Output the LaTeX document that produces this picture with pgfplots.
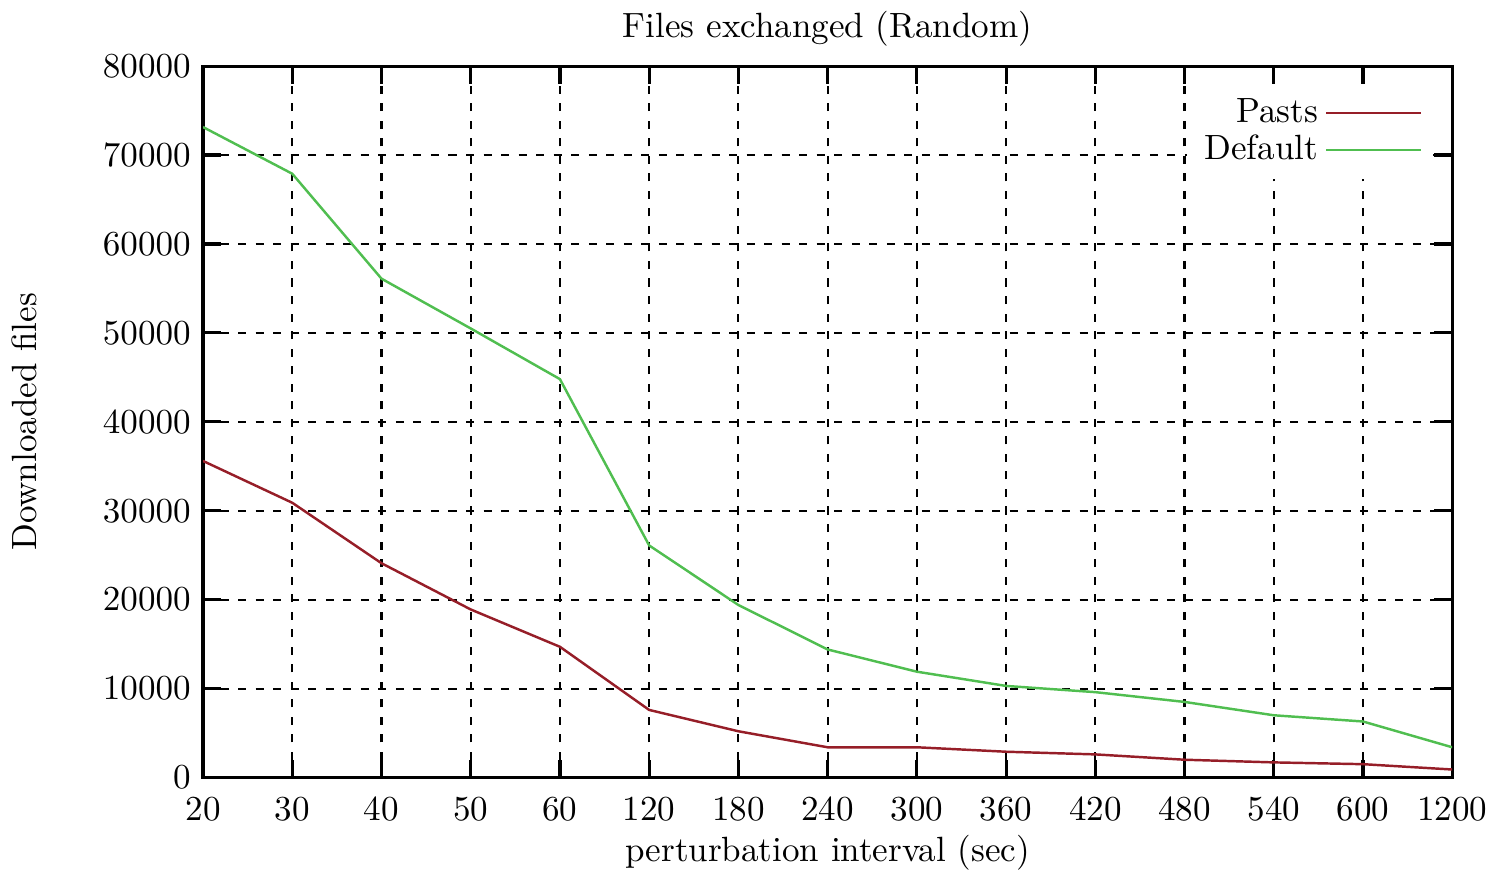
\documentclass[border=0pt]{standalone}
\usepackage{pgfplots}
\pgfplotsset{compat=1.18}
\definecolor{pastsred}{RGB}{150,30,40}
\definecolor{defgreen}{RGB}{80,190,80}
\begin{document}
\begin{tikzpicture}
\begin{axis}[
  width=12.52cm, height=7.13cm, scale only axis,
  xmin=0, xmax=14, ymin=0, ymax=80000,
  xtick={0,...,14},
  xticklabels={20,30,40,50,60,120,180,240,300,360,420,480,540,600,1200},
  ytick={0,10000,...,80000},
  scaled y ticks=false,
  yticklabel style={/pgf/number format/fixed, /pgf/number format/1000 sep={}},
  xticklabel style={yshift=-2pt},
  axis line style={line width=0.9pt},
  tick style={line width=0.9pt, black},
  tick align=inside, major tick length=0.18cm,
  grid=major,
  major grid style={black, line width=0.6pt, dash pattern=on 2.3pt off 2.7pt},
  title={Files exchanged (Random)},
  title style={yshift=-4pt},
  xlabel={perturbation interval (sec)},
  ylabel={Downloaded files},
  ylabel shift=12pt,
  xlabel shift=-3pt,
  every axis plot/.append style={line width=0.7pt},
  legend style={at={(0.985,0.975)}, anchor=north east, draw=none, fill=white,
    legend cell align=right, row sep=-2pt},
  legend plot pos=right,
  legend image code/.code={\draw[#1] (0cm,0cm) -- (0.95cm,0cm);},
]
\addplot[pastsred] coordinates {
  (0,35600) (1,30900) (2,24100) (3,18900) (4,14700) (5,7600) (6,5200)
  (7,3400) (8,3400) (9,2900) (10,2600) (11,2000) (12,1700) (13,1500) (14,900)
};
\addplot[defgreen] coordinates {
  (0,73150) (1,67900) (2,56100) (3,50500) (4,44800) (5,26100) (6,19400)
  (7,14400) (8,11900) (9,10300) (10,9600) (11,8500) (12,7000) (13,6300) (14,3400)
};
\legend{Pasts, Default}
\end{axis}
\end{tikzpicture}
\end{document}
